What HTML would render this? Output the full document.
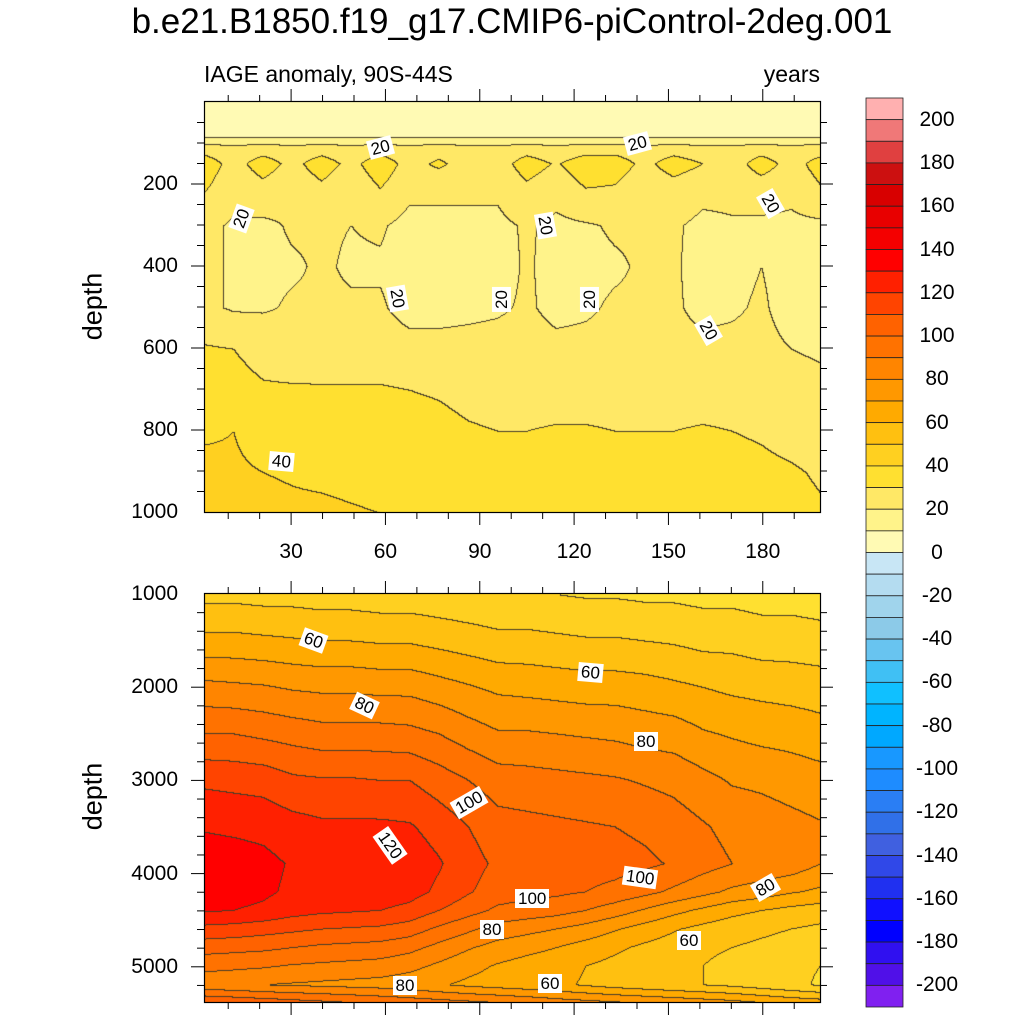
<!DOCTYPE html>
<html><head><meta charset="utf-8">
<style>
html,body{margin:0;padding:0;background:#fff;}
#root{position:relative;width:1024px;height:1024px;overflow:hidden;font-family:"Liberation Sans",sans-serif;color:#000;}
.abs{position:absolute;}
.tl{position:absolute;font-size:21px;white-space:nowrap;}
.cl{position:absolute;background:#fff;font-size:17px;padding:0 3px;line-height:19px;white-space:nowrap;transform-origin:center center;}
canvas{position:absolute;}
</style></head>
<body>
<div id="root">
<div class="abs" style="left:0;width:1024px;top:2px;text-align:center;font-size:35px;">b.e21.B1850.f19_g17.CMIP6-piControl-2deg.001</div>
<div class="abs" style="left:204px;top:61px;font-size:23px;">IAGE anomaly, 90S-44S</div>
<div class="abs" style="left:700px;width:120px;top:61px;font-size:23px;text-align:right;">years</div>
<div class="abs" style="left:53px;top:291px;width:80px;text-align:center;font-size:27px;transform:rotate(-90deg);">depth</div>
<div class="abs" style="left:53px;top:781px;width:80px;text-align:center;font-size:27px;transform:rotate(-90deg);">depth</div>
<canvas id="cTop" width="616" height="411" style="left:204px;top:102px;"></canvas>
<canvas id="cBot" width="616" height="408" style="left:204px;top:594px;"></canvas>
<svg id="axes" class="abs" style="left:0;top:0;" width="1024" height="1024"></svg>
</div>
<script>
// ---- data ----
const years = [2.3,11.6,21.0,30.3,39.6,49.0,58.3,67.6,76.9,86.3,95.6,104.9,114.2,123.6,132.9,142.2,151.6,160.9,170.2,179.5,188.9,198.2];
const topDepths = [0,80,95,110,150,200,300,400,500,600,700,800,900,1000];
const topValues = [
[5,5,5,5,5,5,5,5,5,5,5,5,5,5,5,5,5,5,5,5,5,5],
[8,8,8,8,8,8,8,8,8,8,8,8,8,8,8,8,8,8,8,8,8,8],
[15,15,15,15,15,15,15,15,15,15,15,15,15,15,15,15,15,15,15,15,15,15],
[25,23,25,23,25,23,25,23,25,23,23,25,23,25,25,23,25,23,23,25,23,25],
[36,26,35,27,35,27,36,26,32,25,25,35,29,36,36,27,35,30,25,35,26,34],
[32,23,28,23,29,23,31,23,23,23,22,29,24,31,30,23,27,23,23,26,23,30],
[22,19,18,21,21,20,21,17,17,17,18,21,18,19,21,21,21,18,19,18,18,18],
[22,19,18,19,21,19,19,16,16,16,17,21,17,18,19,21,21,17,18,20,17,17],
[22,19,19,21,21,21,21,17,17,18,19,21,18,19,21,21,21,18,19,21,17,17],
[31,30,27,25,24,24,24,23,23,23,23,23,22,22,22,22,22,22,22,22,20,19],
[34,33,31,31,31,31,31,30,29,27,26,25,25,25,25,25,25,25,25,24,23,22],
[39,40,37,35,34,34,34,34,33,31,30,30,31,31,30,30,30,31,30,29,27,25],
[42,41,40,39,38,37,36,35,34,33,33,33,33,33,33,33,33,33,33,32,31,29],
[45,44,43,42,42,41,40,39,37,36,35,35,35,35,35,35,35,35,35,34,33,31]
];
const botDepths = [1000,1500,2000,2500,3000,3500,3900,4200,4400,4600,4800,5000,5200,5390];
const botValues = [
[47,47,46,46,45,45,44,44,43,42,41,41,40,39,39,38,38,37,37,36,36,35],
[63,63,62,61,60,60,59,59,57,55,53,53,52,51,51,50,49,47,47,45,45,44],
[83,82,81,79,78,78,77,77,74,71,68,67,66,65,65,64,62,60,58,57,56,55],
[100,100,98,96,94,94,94,93,90,85,81,81,80,79,78,76,75,71,69,67,66,64],
[118,117,116,112,111,111,110,110,105,100,95,94,93,92,91,89,87,83,79,78,76,74],
[129,128,127,124,122,122,122,121,116,110,104,103,102,101,100,98,95,91,87,85,83,81],
[136,135,133,129,127,127,127,126,121,114,108,107,106,105,104,102,99,94,90,88,86,80],
[134,134,132,128,127,126,126,124,118,111,105,103,102,100,97,93,88,83,78,75,71,68],
[131,130,128,124,122,121,120,117,110,104,98,96,94,90,85,79,73,68,63,60,57,55],
[117,116,114,112,110,109,108,105,98,92,86,83,80,76,71,66,61,57,54,52,50,48],
[104,103,102,100,98,97,96,93,87,81,76,73,70,66,62,58,55,52,50,48,46,44],
[93,92,91,89,88,87,86,83,78,73,69,66,64,60,57,54,52,50,47,45,42,40],
[83,82,80,79,78,77,76,74,71,68,66,64,62,59,56,54,52,50,48,45,42,39],
[110,108,106,104,102,100,98,96,94,92,90,88,85,83,81,79,77,75,73,70,67,65]
];
const levelColors = ["#8020f0","#5010e8","#3010f0","#0000ff","#1010ff","#2030f0","#3048e8","#4060e0","#3070e8","#2a7ef4","#1e8cff","#1898ff","#00a8ff","#00b4ff","#10c0ff","#40c0f4","#68c4f0","#8ccae8","#a0d4ec","#b4dcf0","#c8e6f5",
"#fffab4","#fff38a","#ffe866","#ffe030","#ffd020","#ffc010","#ffaa00","#ff9800","#ff8500","#ff7200","#ff6200","#ff4400","#ff2000","#ff0000","#f40000","#e80000","#d80000","#cc1010","#e04040","#f07878","#ffb0b0"];
const cbLabels = [200,180,160,140,120,100,80,60,40,20,0,-20,-40,-60,-80,-100,-120,-140,-160,-180,-200];
const xTickLabels = [30,60,90,120,150,180];
const topYTicks = [200,400,600,800,1000];
const botYTicks = [1000,2000,3000,4000,5000];

// ---- scales ----
const X0=204,X1=820, YR0=2.3, YR1=198.2;
const xs = yr => X0 + (yr-YR0)/(YR1-YR0)*(X1-X0);
const topY = d => 102 + d*0.41;
const botY = d => 594 + (d-1000)*0.0932;

function levelIndex(v){ let i=Math.floor(v/10)+21; return Math.max(0,Math.min(41,i)); }
function sample(depths, vals, yr, d){
  let j=0; while(j<years.length-2 && yr>years[j+1]) j++;
  let tx=(yr-years[j])/(years[j+1]-years[j]); tx=Math.max(0,Math.min(1,tx));
  let i=0; while(i<depths.length-2 && d>depths[i+1]) i++;
  let ty=(d-depths[i])/(depths[i+1]-depths[i]); ty=Math.max(0,Math.min(1,ty));
  const a=vals[i][j],b=vals[i][j+1],c=vals[i+1][j],e=vals[i+1][j+1];
  return (a*(1-tx)+b*tx)*(1-ty)+(c*(1-tx)+e*tx)*ty;
}
function hex(h){return [parseInt(h.substr(1,2),16),parseInt(h.substr(3,2),16),parseInt(h.substr(5,2),16)];}
const rgb = levelColors.map(hex);
function drawPanel(id, depths, vals, dTop, dBot){
  const cv=document.getElementById(id), ctx=cv.getContext('2d');
  const W=cv.width,H=cv.height, img=ctx.createImageData(W,H);
  const lv=new Int16Array(W*H);
  for(let py=0;py<H;py++){
    const d=dTop+(py+0.5)/H*(dBot-dTop);
    for(let px=0;px<W;px++){
      const yr=YR0+(px+0.5)/W*(YR1-YR0);
      lv[py*W+px]=levelIndex(sample(depths,vals,yr,d));
    }
  }
  for(let p=0;p<W*H;p++){
    const px=p%W, py=(p-px)/W;
    let c=rgb[lv[p]];
    if((px>0&&lv[p-1]!==lv[p])||(py>0&&lv[p-W]!==lv[p])) c=[70,60,40];
    img.data[p*4]=c[0];img.data[p*4+1]=c[1];img.data[p*4+2]=c[2];img.data[p*4+3]=255;
  }
  ctx.putImageData(img,0,0);
}
drawPanel('cTop',topDepths,topValues,0,1000);
drawPanel('cBot',botDepths,botValues,1000,5390);

// ---- axes ----
const svg=document.getElementById('axes'), NS='http://www.w3.org/2000/svg';
function line(x1,y1,x2,y2,w,name){const l=document.createElementNS(NS,'line');
l.setAttribute('x1',x1);l.setAttribute('y1',y1);l.setAttribute('x2',x2);l.setAttribute('y2',y2);
l.setAttribute('stroke','#000');l.setAttribute('stroke-width',w);


svg.appendChild(l);}
function rect(x,y,w,h,name){const r=document.createElementNS(NS,'rect');
r.setAttribute('x',x);r.setAttribute('y',y);r.setAttribute('width',w);r.setAttribute('height',h);
r.setAttribute('fill','none');r.setAttribute('stroke','#000');r.setAttribute('stroke-width',1.2);


svg.appendChild(r);}
rect(204.5,101.5,616,411,'top-panel-frame');
rect(204.5,593.5,616,409,'bottom-panel-frame');
const root=document.getElementById('root');
function label(txt,x,y,align,name){const d=document.createElement('div');d.className='tl';d.textContent=txt;
d.style.top=(y-12)+'px';
if(align==='r'){d.style.left=(x-100)+'px';d.style.width='100px';d.style.textAlign='right';}
else{d.style.left=(x-50)+'px';d.style.width='100px';d.style.textAlign='center';}


root.appendChild(d);}
for(let yr=10;yr<=190;yr+=10){
  const x=xs(yr), major=yr%30===0;
  const L=major?13:7;
  line(x,102,x,102-L,1,'x-tick-top');
  line(x,512,x,512+L,1,'x-tick-top-panel-bottom');
  line(x,594,x,594-L,1,'x-tick-bottom-panel-top');
  line(x,1002,x,1002+L,1,'x-tick-bottom');
}
xTickLabels.forEach(v=>label(String(v),xs(v),552,'c','x-tick-label'));
for(let d=50;d<1000;d+=50){const y=topY(d),major=d%200===0,L=major?13:7;
  line(204,y,204-L,y,1,'y-tick-top-left');line(820,y,820+L,y,1,'y-tick-top-right');}
topYTicks.forEach(v=>label(String(v),178,topY(v),'r','y-tick-label-top'));
for(let d=1200;d<=5390;d+=200){const y=botY(d),major=d%1000===0,L=major?13:7;
  line(204,y,204-L,y,1,'y-tick-bottom-left');line(820,y,820+L,y,1,'y-tick-bottom-right');}
botYTicks.forEach(v=>{label(String(v),178,botY(v),'r','y-tick-label-bottom');});
// colorbar
const CB0=98, CBH=909/42;
for(let k=0;k<42;k++){
  const r=document.createElementNS(NS,'rect');
  r.setAttribute('x',866);r.setAttribute('y',CB0+k*CBH);r.setAttribute('width',37);r.setAttribute('height',CBH);
  r.setAttribute('fill',levelColors[41-k]);r.setAttribute('stroke','#222');r.setAttribute('stroke-width',0.8);
  
  
  svg.appendChild(r);
}
cbLabels.forEach(v=>{const y=CB0+(21-v/10)*CBH; label(String(v),937,y,'c','colorbar-label');});
// contour labels
const clabs=[["20",380,147,-15],["20",637,143,-15],["20",241,218,-70],["20",545,225,80],["20",770,203,60],["20",397,298,80],["20",501,299,-90],["20",589,299,-90],["20",708,330,60],["40",281,461,5],
["60",313,640,20],["80",364,705,25],["100",469,802,-30],["120",390,845,55],["60",590,672,5],["80",646,741,0],["100",640,877,8],["100",532,898,0],["80",492,929,0],["80",765,887,-30],["60",689,940,0],["80",405,985,0],["60",550,983,0]];
clabs.forEach(c=>{const d=document.createElement('div');d.className='cl';d.textContent=c[0];
  root.appendChild(d);const w=d.offsetWidth,h=d.offsetHeight;
  d.style.left=(c[1]-w/2)+'px';d.style.top=(c[2]-h/2)+'px';d.style.transform='rotate('+c[3]+'deg)';
  
  
});
</script>
</body></html>
